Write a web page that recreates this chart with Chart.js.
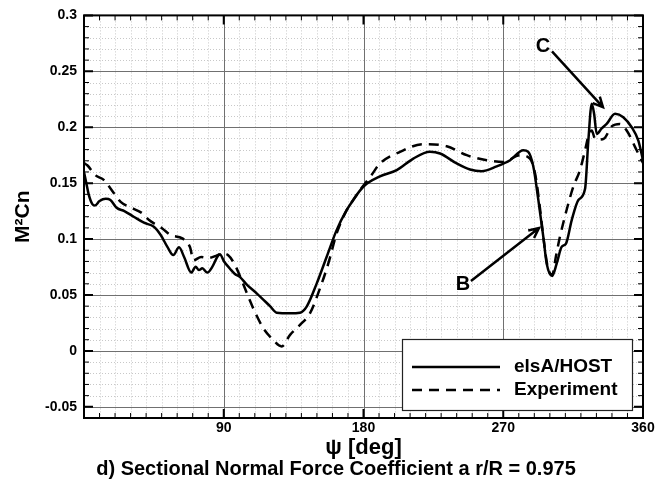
<!DOCTYPE html>
<html>
<head>
<meta charset="utf-8">
<script src="https://cdn.jsdelivr.net/npm/chart.js@4.4.1/dist/chart.umd.min.js"></script>
<style>
  html, body { margin: 0; background: #fff; }
</style>
</head>
<body>
<canvas id="c" width="670" height="487"></canvas>
<script>
// elsA/HOST computation (solid)
const psiElsa = [0, 1.5, 3, 5.5, 7, 10, 14, 17, 21, 26, 32, 38.6, 45, 49.4, 53.7, 57.5, 61.2, 64.4, 69.1, 71.9, 74, 76.2, 79.4, 82.7, 85.9, 87.5, 90.2, 94, 97, 100.5, 105, 111.2, 119.8, 124.1, 132.7, 139.1, 143.4, 149.9, 156.3, 162.7, 169.2, 173.4, 180, 190.6, 201.4, 212.1, 222.8, 229.3, 240, 248.6, 256.1, 265.8, 274.4, 282.9, 286.1, 289.4, 292.6, 295.8, 298, 301.5, 304.4, 307.6, 310.4, 314.1, 318.4, 322.7, 324.8, 327, 328.5, 330.2, 333.4, 336.6, 342, 347.3, 352.7, 357, 360];
const cnElsa  = [0.160, 0.150, 0.140, 0.131, 0.130, 0.134, 0.136, 0.135, 0.128, 0.125, 0.120, 0.1146, 0.111, 0.1036, 0.093, 0.0857, 0.0926, 0.0842, 0.070, 0.0753, 0.0723, 0.0738, 0.070, 0.0753, 0.0842, 0.0865, 0.080, 0.0735, 0.069, 0.066, 0.059, 0.0515, 0.040, 0.0342, 0.0336, 0.0342, 0.0396, 0.0604, 0.0842, 0.108, 0.126, 0.135, 0.147, 0.156, 0.1616, 0.172, 0.178, 0.1765, 0.1676, 0.1622, 0.1607, 0.165, 0.1705, 0.1795, 0.178, 0.1646, 0.135, 0.102, 0.078, 0.067, 0.078, 0.093, 0.096, 0.117, 0.135, 0.145, 0.188, 0.221, 0.212, 0.194, 0.199, 0.203, 0.212, 0.209, 0.200, 0.188, 0.1705];

// Experiment (dashed)
const psiExp = [0, 2.1, 7.5, 12.9, 17.2, 23.6, 29, 37.6, 41.9, 50.4, 55.8, 63.3, 68.3, 70.5, 75.5, 80, 85, 89, 92.7, 97.2, 105.8, 109, 115.5, 121, 127.3, 132.7, 139.1, 145.5, 152, 157.3, 162.7, 168.1, 173.4, 180, 185, 190.6, 203.5, 218.5, 233.6, 246.5, 259.4, 270.1, 280.8, 287.2, 290.5, 293, 296, 298.5, 301.5, 304, 306.5, 310.8, 315.1, 319.4, 322.7, 325, 327, 329, 332, 335, 340, 345, 350, 355, 360];
const cnExp  = [0.168, 0.166, 0.157, 0.1527, 0.145, 0.1333, 0.1289, 0.123, 0.117, 0.1095, 0.1036, 0.1006, 0.0926, 0.081, 0.084, 0.083, 0.085, 0.087, 0.0857, 0.0768, 0.0485, 0.038, 0.0202, 0.011, 0.004, 0.0143, 0.0232, 0.0336, 0.056, 0.078, 0.105, 0.123, 0.135, 0.148, 0.157, 0.1676, 0.178, 0.1848, 0.183, 0.175, 0.1705, 0.169, 0.175, 0.172, 0.1586, 0.135, 0.100, 0.076, 0.068, 0.085, 0.102, 0.126, 0.1467, 0.1616, 0.1795, 0.193, 0.197, 0.19, 0.189, 0.19, 0.201, 0.203, 0.196, 0.182, 0.168];

const xTicks = [90, 180, 270, 360];
const yTicks = [-0.05, 0, 0.05, 0.1, 0.15, 0.2, 0.25, 0.3];
const yTickLabels = ['-0.05', '0', '0.05', '0.1', '0.15', '0.2', '0.25', '0.3'];
const seriesNames = ['elsA/HOST', 'Experiment'];

const FONT = "'Liberation Sans', Arial, Helvetica, sans-serif";
const DASH = [10, 7];

function pts(xs, ys) { return xs.map((x, i) => ({ x, y: ys[i] })); }

function arrow(ctx, x1, y1, x2, y2) {
  const a = Math.atan2(y2 - y1, x2 - x1), h = 11;
  ctx.beginPath();
  ctx.moveTo(x1, y1); ctx.lineTo(x2, y2);
  ctx.moveTo(x2 - h * Math.cos(a - 0.45), y2 - h * Math.sin(a - 0.45));
  ctx.lineTo(x2, y2);
  ctx.lineTo(x2 - h * Math.cos(a + 0.45), y2 - h * Math.sin(a + 0.45));
  ctx.stroke();
}

const decor = {
  id: 'decor',
  beforeDatasetsDraw(chart) {
    const { ctx, chartArea: a, scales: { x, y } } = chart;
    ctx.save();
    ctx.lineWidth = 1;
    // fine dotted grid
    ctx.strokeStyle = '#c8c8c8';
    ctx.setLineDash([1, 2]);
    for (let v = 10; v < 360; v += 10) {
      if (v % 90 === 0) continue;
      const px = Math.round(x.getPixelForValue(v)) + 0.5;
      ctx.beginPath(); ctx.moveTo(px, a.top); ctx.lineTo(px, a.bottom); ctx.stroke();
    }
    for (let i = -5; i < 30; i++) {
      if (i % 5 === 0) continue;
      const py = Math.round(y.getPixelForValue(i / 100)) + 0.5;
      ctx.beginPath(); ctx.moveTo(a.left, py); ctx.lineTo(a.right, py); ctx.stroke();
    }
    // major grid
    ctx.setLineDash([]);
    ctx.strokeStyle = '#707070';
    xTicks.forEach(v => {
      const px = Math.round(x.getPixelForValue(v)) + 0.5;
      ctx.beginPath(); ctx.moveTo(px, a.top); ctx.lineTo(px, a.bottom); ctx.stroke();
    });
    yTicks.forEach(v => {
      const py = Math.round(y.getPixelForValue(v)) + 0.5;
      ctx.beginPath(); ctx.moveTo(a.left, py); ctx.lineTo(a.right, py); ctx.stroke();
    });
    ctx.restore();
  },
  afterDatasetsDraw(chart) {
    const { ctx, chartArea: a, scales: { x, y } } = chart;
    ctx.save();
    ctx.strokeStyle = '#000';
    ctx.fillStyle = '#000';

    // inward ticks on all four sides
    for (let v = 0; v <= 360; v += 10) {
      const major = v % 90 === 0, len = major ? 9 : 5;
      const px = x.getPixelForValue(v);
      ctx.lineWidth = major ? 2 : 1;
      ctx.beginPath();
      ctx.moveTo(px, a.bottom); ctx.lineTo(px, a.bottom - len);
      ctx.moveTo(px, a.top); ctx.lineTo(px, a.top + len);
      ctx.stroke();
    }
    for (let i = -6; i <= 30; i++) {
      const major = i % 5 === 0, len = major ? 9 : 5;
      const py = y.getPixelForValue(i / 100);
      ctx.lineWidth = major ? 2 : 1;
      ctx.beginPath();
      ctx.moveTo(a.left, py); ctx.lineTo(a.left + len, py);
      ctx.moveTo(a.right, py); ctx.lineTo(a.right - len, py);
      ctx.stroke();
    }

    // legend box
    const lx = a.right - 241, ly = a.bottom - 79, lw = 230, lh = 71;
    ctx.fillStyle = '#fff';
    ctx.fillRect(lx, ly, lw, lh);
    ctx.lineWidth = 1.2;
    ctx.strokeStyle = '#222';
    ctx.strokeRect(lx + 0.5, ly + 0.5, lw, lh);
    ctx.strokeStyle = '#000';
    ctx.fillStyle = '#000';
    ctx.lineWidth = 2.5;
    chart.data.datasets.forEach((ds, i) => {
      const yy = ly + 28 + i * 23;
      ctx.setLineDash(ds.borderDash || []);
      ctx.beginPath(); ctx.moveTo(lx + 10, yy); ctx.lineTo(lx + 98, yy); ctx.stroke();
      ctx.setLineDash([]);
      ctx.font = 'bold 19px ' + FONT;
      ctx.textAlign = 'left'; ctx.textBaseline = 'middle';
      ctx.fillText(ds.label, lx + 112, yy);
    });

    // frame
    ctx.lineWidth = 2;
    ctx.strokeRect(a.left, a.top, a.right - a.left, a.bottom - a.top);

    // annotations B and C
    ctx.lineWidth = 2.5;
    ctx.font = 'bold 20px ' + FONT;
    ctx.textAlign = 'center'; ctx.textBaseline = 'middle';
    ctx.fillText('B', x.getPixelForValue(244.1), y.getPixelForValue(0.0598));
    arrow(ctx, x.getPixelForValue(249.2), y.getPixelForValue(0.0625), x.getPixelForValue(293), y.getPixelForValue(0.1098));
    ctx.fillText('C', x.getPixelForValue(295.6), y.getPixelForValue(0.2723));
    arrow(ctx, x.getPixelForValue(301.4), y.getPixelForValue(0.2679), x.getPixelForValue(334.2), y.getPixelForValue(0.2179));

    // axis titles and caption
    const cx = (a.left + a.right) / 2;
    ctx.font = 'bold 22px ' + FONT;
    ctx.fillText('\u03c8 [deg]', cx, 448);
    ctx.font = 'bold 20px ' + FONT;
    ctx.fillText('d) Sectional Normal Force Coefficient a r/R = 0.975', 336, 469);
    ctx.save();
    ctx.translate(23, (a.top + a.bottom) / 2);
    ctx.rotate(-Math.PI / 2);
    ctx.font = 'bold 21px ' + FONT;
    ctx.fillText('M\u00b2Cn', 0, 0);
    ctx.restore();

    ctx.restore();
  }
};

new Chart(document.getElementById('c'), {
  type: 'scatter',
  data: {
    datasets: [
      { label: seriesNames[0], data: pts(psiElsa, cnElsa), showLine: true, borderColor: '#000', borderWidth: 2.5, pointRadius: 0, cubicInterpolationMode: 'monotone' },
      { label: seriesNames[1], data: pts(psiExp, cnExp), showLine: true, borderColor: '#000', borderWidth: 2.5, borderDash: DASH, pointRadius: 0, cubicInterpolationMode: 'monotone' }
    ]
  },
  options: {
    responsive: false,
    animation: false,
    devicePixelRatio: 1,
    layout: { padding: { top: 15, right: 27, left: 0, bottom: 0 } },
    plugins: { legend: { display: false }, tooltip: { enabled: false } },
    scales: {
      x: {
        type: 'linear', min: 0, max: 360,
        afterBuildTicks: s => { s.ticks = xTicks.map(v => ({ value: v })); },
        afterFit: s => { s.height = 69; },
        grid: { display: false, drawTicks: false },
        border: { display: false },
        ticks: { color: '#000', font: { family: FONT, size: 14, weight: 'bold' }, padding: 2, maxRotation: 0, autoSkip: false }
      },
      y: {
        type: 'linear', min: -0.06, max: 0.3,
        afterBuildTicks: s => { s.ticks = yTicks.map(v => ({ value: v })); },
        afterFit: s => { s.width = 84; },
        grid: { display: false, drawTicks: false },
        border: { display: false },
        ticks: {
          color: '#000', font: { family: FONT, size: 14, weight: 'bold' }, padding: 7, autoSkip: false,
          callback: (v) => { const i = yTicks.findIndex(t => Math.abs(t - v) < 1e-9); return i >= 0 ? yTickLabels[i] : ''; }
        }
      }
    }
  },
  plugins: [decor]
});
</script>
</body>
</html>
